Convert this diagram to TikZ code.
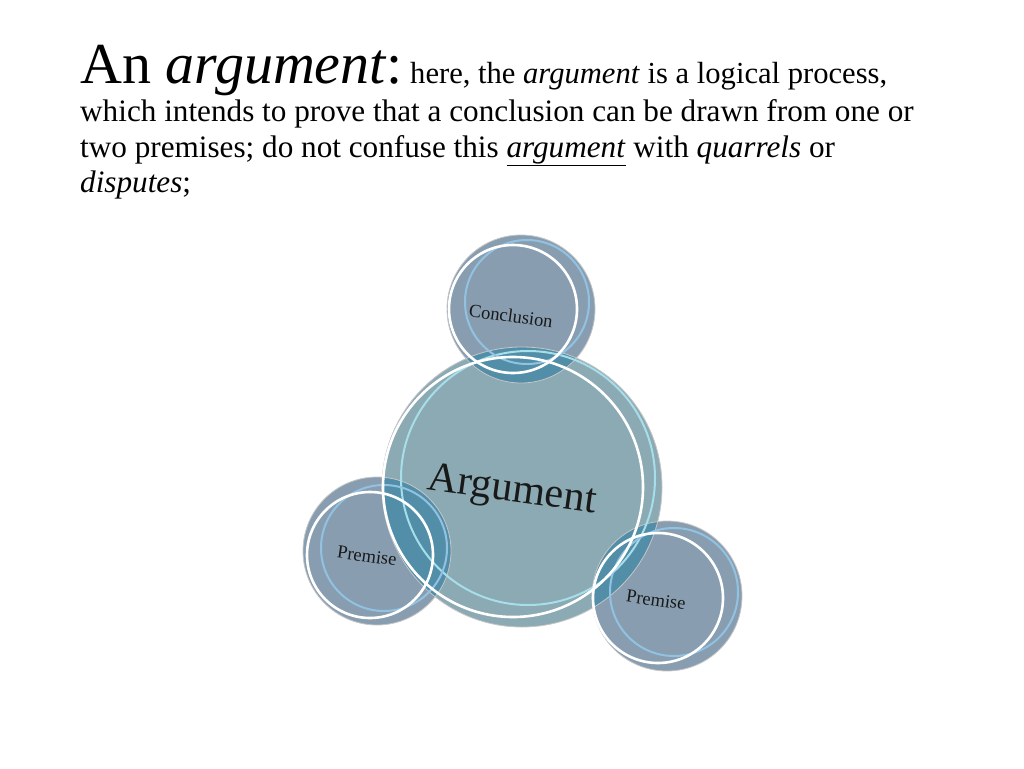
\documentclass[tikz,border=0pt]{standalone}
\usepackage{fontspec}
\setmainfont{Liberation Serif}
\definecolor{argfill}{HTML}{8CAAB4}
\definecolor{satfill}{HTML}{889EB0}
\definecolor{overlap}{HTML}{528EA8}
\definecolor{argring}{HTML}{A6DEEA}
\definecolor{satring}{HTML}{92C2E2}
\begin{document}
\begin{tikzpicture}[x=1pt,y=-1pt,
  fillc/.style={draw=gray!45,line width=0.8pt},
  whitering/.style={draw=white,line width=2.6pt},
  lightring/.style={line width=2pt},
  body/.style={anchor=base west,inner sep=0pt,font=\fontsize{31.2}{36}\selectfont},
  lbl/.style={rotate=-8,inner sep=0pt,text=black!90}]
\useasboundingbox (0,0) rectangle (1024,768);
% heading text
\node[anchor=base west,inner sep=0pt,font=\fontsize{58}{64}\selectfont] (t1) at (80,83) {An \textit{argument}:};
\node[body,font=\fontsize{30.6}{36}\selectfont] (t1b) at (410,83) {here, the \textit{argument} is a logical process,};
\node[body] (t2) at (80,121) {which intends to prove that a conclusion can be drawn from one or};
\node[body] (t3) at (80,157) {two premises; do not confuse this \underline{\textit{argument}} with \textit{quarrels} or};
\node[body] (t4) at (80,192) {\textit{disputes};};
% fills
\fill[argfill] (522,487) circle (140);
\fill[satfill] (521,309) circle (74);
\fill[satfill] (377,551) circle (74);
\fill[satfill] (667,596) circle (75);
% overlaps
\begin{scope}
  \clip (522,487) circle (140);
  \fill[overlap] (521,309) circle (74);
  \fill[overlap] (377,551) circle (74);
  \fill[overlap] (667,596) circle (75);
\end{scope}
% thin borders
\draw[fillc] (522,487) circle (140);
\draw[fillc] (521,309) circle (74);
\draw[fillc] (377,551) circle (74);
\draw[fillc] (667,596) circle (75);
% light rings
\draw[lightring,draw=argring] (528,478) circle (127);
\draw[lightring,draw=satring] (527,302) circle (62);
\draw[lightring,draw=satring] (384,548) circle (63);
\draw[lightring,draw=satring] (674,592) circle (64);
% white rings
\draw[whitering] (513,487) circle (130);
\draw[whitering] (513,309) circle (64);
\draw[whitering] (370,555) circle (63);
\draw[whitering] (658,598) circle (65);
% labels
\node[lbl,font=\fontsize{42}{46}\selectfont] (arg) at (512,492) {Argument};
\node[lbl,font=\fontsize{18.5}{20}\selectfont] (con) at (511,316) {Conclusion};
\node[lbl,font=\fontsize{18.5}{20}\selectfont] (p1) at (367,556) {Premise};
\node[lbl,font=\fontsize{18.5}{20}\selectfont] (p2) at (656,600) {Premise};
\end{tikzpicture}
\end{document}
